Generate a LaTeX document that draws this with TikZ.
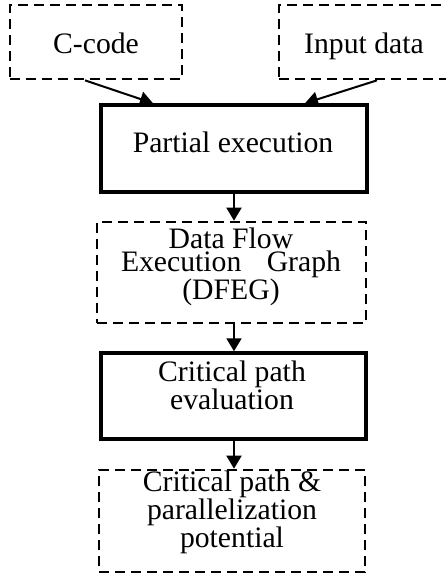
\documentclass[tikz,border=0pt]{standalone}
\usepackage{fontspec}
\setmainfont{Liberation Serif}
\usetikzlibrary{arrows.meta}
\begin{document}
\begin{tikzpicture}[x=1pt,y=-1pt,
  dbox/.style={draw, line width=2.7pt, dash pattern=on 10pt off 6pt, inner sep=0pt},
  sbox/.style={draw, line width=3.5pt, inner sep=0pt},
  txt/.style={font=\fontsize{29.7}{22.8}\selectfont, inner sep=0pt, align=center, anchor=base},
  arr/.style={line width=2pt, -{Triangle[length=13pt,width=15pt]}}]
\useasboundingbox (0,0) rectangle (446,574);
% boxes
\node[dbox, minimum width=172pt, minimum height=74pt] (ccode) at (96,42) {};
\node[dbox, minimum width=172pt, minimum height=74pt] (input) at (365,42) {};
\node[sbox, minimum width=266pt, minimum height=87pt] (part) at (234,148.5) {};
\node[dbox, minimum width=269pt, minimum height=101pt] (dfeg) at (231.5,272.5) {};
\node[sbox, minimum width=265pt, minimum height=86pt] (crit) at (233.5,396) {};
\node[dbox, minimum width=266pt, minimum height=102pt] (pot) at (232,521) {};
% texts (base anchor = baseline of last line)
\node[txt] (t1) at (96,53) {C-code};
\node[txt] (t2) at (364,53) {Input data};
\node[txt] (t3) at (233,152) {Partial execution};
\node[txt] (t4) at (231,299) {Data Flow\\\makebox[220pt]{Execution\hfill Graph}\\(DFEG)};
\node[txt] (t5) at (232,409) {Critical path\\evaluation};
\node[txt] (t6) at (232,547) {Critical path \&\\parallelization\\potential};
% arrows
\draw[arr] ([xshift=-11pt]ccode.south) -- ([xshift=-81pt]part.north);
\draw[arr] ([xshift=12pt]input.south) -- ([xshift=71pt]part.north);
\draw[arr] (part.south) -- (part.south |- dfeg.north);
\draw[arr] (part.south |- dfeg.south) -- (part.south |- crit.north);
\draw[arr] (part.south |- crit.south) -- (part.south |- pot.north);
\end{tikzpicture}
\end{document}
